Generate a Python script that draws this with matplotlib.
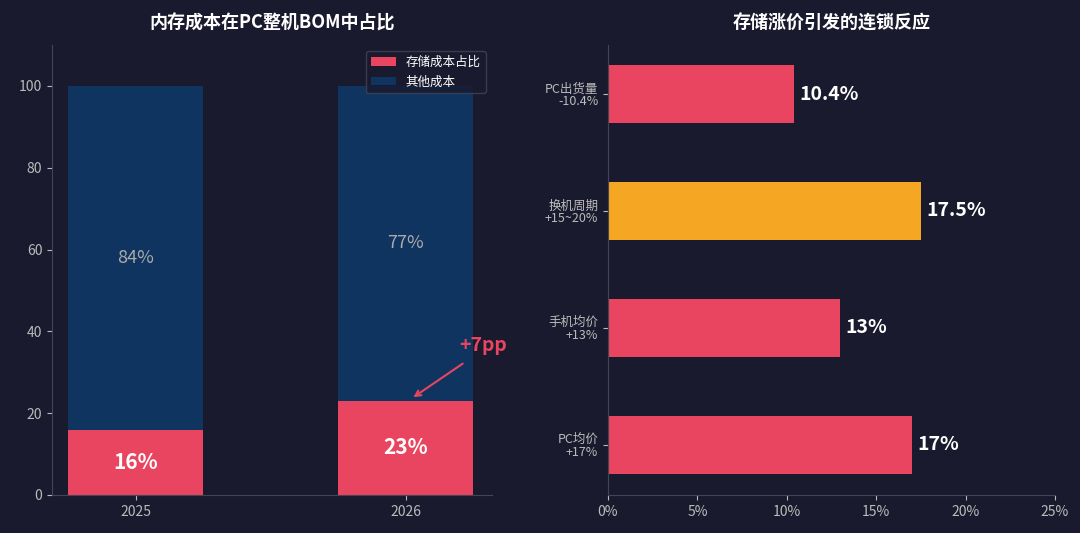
import matplotlib
matplotlib.use("Agg")
import matplotlib.pyplot as plt

plt.rcParams['font.family'] = ['Noto Sans CJK SC', 'DejaVu Sans']

years = ['2025', '2026']
storage = [16, 23]
other = [84, 77]
effects = ['PC均价\n+17%', '手机均价\n+13%', '换机周期\n+15~20%', 'PC出货量\n-10.4%']
eff_vals = [17, 13, 17.5, 10.4]
eff_labels = ['17%', '13%', '17.5%', '10.4%']

BG = '#1a1a2e'
RED = '#e94560'
NAVY = '#0f3460'
ORANGE = '#f5a623'
TXT = '#bbbbbb'
SPINE = '#444455'

fig = plt.figure(figsize=(10.8, 5.33), dpi=100, facecolor=BG)
ax1 = fig.add_axes([52/1080, 38/533, 440/1080, 450/533])
ax2 = fig.add_axes([608/1080, 38/533, 447/1080, 450/533])
for ax in (ax1, ax2):
    ax.set_facecolor(BG)
    for s in ['top', 'right']:
        ax.spines[s].set_visible(False)
    for s in ['left', 'bottom']:
        ax.spines[s].set_color(SPINE)
    ax.tick_params(colors=TXT, labelsize=10)

x = [0, 1]
ax1.bar(x, storage, width=0.5, color=RED, label='存储成本占比')
ax1.bar(x, other, width=0.5, bottom=storage, color=NAVY, label='其他成本')
for i in range(2):
    ax1.text(x[i], storage[i]/2, f'{storage[i]}%', ha='center', va='center',
             color='white', fontsize=15, fontweight='bold')
    ax1.text(x[i], storage[i] + other[i]/2, f'{other[i]}%', ha='center', va='center',
             color='#aaaaaa', fontsize=13)
ax1.set_xticks(x)
ax1.set_xticklabels(years)
ax1.set_xlim(-0.31, 1.32)
ax1.set_ylim(0, 110)
ax1.set_yticks([0, 20, 40, 60, 80, 100])
ax1.set_title('内存成本在PC整机BOM中占比', color='white', fontsize=13, fontweight='bold', pad=12)
ax1.annotate('', xy=(1.02, 23.5), xytext=(1.22, 32.5),
             arrowprops=dict(arrowstyle='->', color=RED, lw=1.5))
ax1.text(1.2, 36.5, '+7pp', color=RED, fontsize=14, fontweight='bold', va='center')
leg = ax1.legend(loc='upper right', facecolor=BG, edgecolor=SPINE, fontsize=9,
                 labelcolor='white', bbox_to_anchor=(1.0, 1.0))

ypos = [0, 1, 2, 3]
colors = [RED, RED, ORANGE, RED]
ax2.barh(ypos, eff_vals, height=0.5, color=colors)
for i in range(4):
    ax2.text(eff_vals[i] + 0.3, ypos[i], eff_labels[i], va='center', ha='left',
             color='white', fontsize=14, fontweight='bold')
ax2.set_yticks(ypos)
ax2.set_yticklabels(effects, fontsize=9, linespacing=0.95)
ax2.set_ylim(-0.43, 3.42)
ax2.set_xlim(0, 25)
ax2.set_xticks([0, 5, 10, 15, 20, 25])
ax2.set_xticklabels(['0%', '5%', '10%', '15%', '20%', '25%'])
ax2.set_title('存储涨价引发的连锁反应', color='white', fontsize=13, fontweight='bold', pad=12)

fig.savefig('out.png', dpi=100, facecolor=BG)
